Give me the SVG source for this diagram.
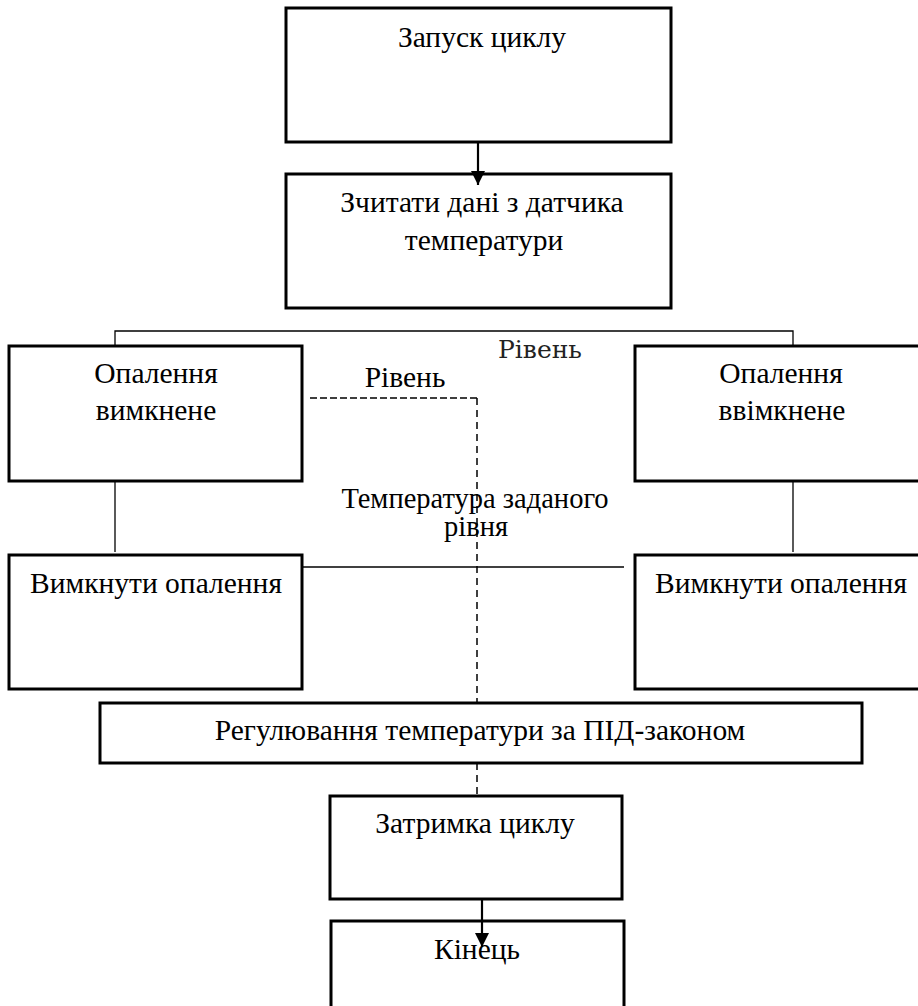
<svg xmlns="http://www.w3.org/2000/svg" width="918" height="1006" viewBox="0 0 918 1006">
<style>
.box{fill:#fff;stroke:#000;stroke-width:3}
.t{font-family:"Liberation Serif","Times New Roman",serif;font-size:29.5px;fill:#000;text-anchor:middle}
.thin{fill:none;stroke:#000;stroke-width:1.3}
.dash{fill:none;stroke:#000;stroke-width:1.5}
.arr{fill:none;stroke:#000;stroke-width:2.2}
</style>
<defs>
<marker id="ah" markerUnits="userSpaceOnUse" markerWidth="14" markerHeight="14" refX="14" refY="7" orient="auto">
<path d="M0,0 L14,7 L0,14 z" fill="#000"/>
</marker>
</defs>
<rect width="918" height="1006" fill="#fff"/>
<g id="n1"><rect class="box" x="286" y="8" width="385" height="134"/><text class="t" x="482" y="47">Запуск циклу</text></g>
<g id="n2"><rect class="box" x="286" y="174" width="385" height="134"/><text class="t" x="482" y="212">Зчитати дані з датчика</text><text class="t" x="484" y="250">температури</text></g>
<g id="n3"><rect class="box" x="9" y="346" width="293" height="135"/><text class="t" x="156" y="383">Опалення</text><text class="t" x="156" y="420">вимкнене</text></g>
<g id="n4"><rect class="box" x="635" y="346" width="295" height="135"/><text class="t" x="781" y="383">Опалення</text><text class="t" x="782" y="420">ввімкнене</text></g>
<g id="n5"><rect class="box" x="9" y="555" width="293" height="134"/><text class="t" x="156" y="593">Вимкнути опалення</text></g>
<g id="n6"><rect class="box" x="635" y="555" width="295" height="134"/><text class="t" x="781" y="593">Вимкнути опалення</text></g>
<g id="n7"><rect class="box" x="100" y="703" width="762" height="60"/><text class="t" x="480" y="740">Регулювання температури за ПІД-законом</text></g>
<g id="n8"><rect class="box" x="330" y="796" width="292" height="103"/><text class="t" x="475" y="833">Затримка циклу</text></g>
<g id="n9"><rect class="box" x="331" y="921" width="293" height="100"/><text class="t" x="477" y="959">Кінець</text></g>
<g id="connectors">
<line class="arr" x1="478" y1="142" x2="478" y2="185" marker-end="url(#ah)"/>
<polyline class="thin" points="115,346 115,331 793,331 793,346"/>
<line class="thin" x1="115" y1="481" x2="115" y2="552"/>
<line class="thin" x1="793" y1="481" x2="793" y2="552"/>
<line class="thin" x1="302" y1="567" x2="624" y2="567"/>
<line class="dash" x1="310" y1="398" x2="477" y2="398" stroke-dasharray="7 3"/>
<line class="dash" x1="477" y1="398" x2="477" y2="703" stroke-dasharray="7 5"/>
<line class="dash" x1="477" y1="763" x2="477" y2="796" stroke-dasharray="7 5"/>
<line class="arr" x1="482" y1="899" x2="482" y2="947" marker-end="url(#ah)"/>
</g>
<g id="labels">
<text class="t" x="405" y="387">Рівень</text>
<text x="540" y="358" font-family="'DejaVu Serif',serif" font-size="25" fill="#222" text-anchor="middle">Рівень</text>
<text class="t" x="475" y="508" style="font-size:28.5px">Температура заданого</text>
<text class="t" x="476" y="536" style="font-size:28.5px">рівня</text>
</g>
</svg>
